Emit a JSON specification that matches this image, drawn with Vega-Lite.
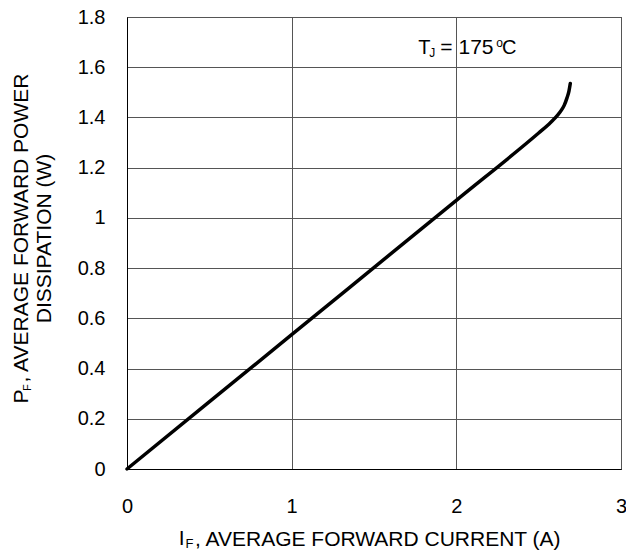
{
  "$schema": "https://vega.github.io/schema/vega-lite/v6.json",
  "width": 494,
  "height": 452,
  "autosize": {"type": "none"},
  "padding": {"left": 127, "top": 17, "right": 5, "bottom": 83},
  "background": "white",
  "config": {
    "view": {"stroke": "#222", "strokeWidth": 1},
    "font": "Liberation Sans",
    "text": {"font": "Liberation Sans", "color": "black"}
  },
  "data": {
    "values": [
      {"current": 0, "power": 0},
      {"current": 1, "power": 0.535},
      {"current": 2, "power": 1.07},
      {"current": 2.5, "power": 1.338},
      {"current": 2.56, "power": 1.372},
      {"current": 2.6, "power": 1.398},
      {"current": 2.63, "power": 1.422},
      {"current": 2.655, "power": 1.448},
      {"current": 2.672, "power": 1.478},
      {"current": 2.684, "power": 1.505},
      {"current": 2.692, "power": 1.535}
    ]
  },
  "layer": [
    {
      "mark": {"type": "line", "color": "black", "strokeWidth": 3.5, "interpolate": "monotone", "strokeCap": "round"},
      "encoding": {
        "x": {
          "field": "current", "type": "quantitative",
          "scale": {"domain": [0, 3], "nice": false, "zero": false},
          "axis": {
            "values": [0, 1, 2, 3], "format": "~g",
            "ticks": false, "labelPadding": 27, "labelFontSize": 20, "labelColor": "black", "labelFont": "Liberation Sans",
            "domainColor": "black", "gridColor": "#555", "gridWidth": 1,
            "title": ", AVERAGE FORWARD CURRENT (A)",
            "titleFont": "Liberation Sans", "titleFontSize": 21, "titleFontWeight": "normal", "titleColor": "black",
            "titleAlign": "left", "titleBaseline": "alphabetic", "titleX": 67.5, "titleY": 76,
            "labelFlush": false
          }
        },
        "y": {
          "field": "power", "type": "quantitative",
          "scale": {"domain": [0, 1.8], "nice": false, "zero": false},
          "axis": {
            "values": [0, 0.2, 0.4, 0.6, 0.8, 1, 1.2, 1.4, 1.6, 1.8], "format": "~g",
            "ticks": false, "labelPadding": 22, "labelFontSize": 20, "labelColor": "black", "labelFont": "Liberation Sans",
            "domainColor": "black", "gridColor": "#555", "gridWidth": 1,
            "title": ["P\u2004, AVERAGE FORWARD POWER", "DISSIPATION (W)"],
            "titleFont": "Liberation Sans", "titleFontSize": 21, "titleFontWeight": "normal", "titleColor": "black",
            "titleAlign": "center", "titleBaseline": "alphabetic", "titleAngle": -90,
            "titleX": -100, "titleY": 221, "titleLineHeight": 23,
            "labelFlush": false
          }
        }
      }
    },
    {
      "data": {"values": [{}]},
      "mark": {"type": "text", "text": "I", "fontSize": 21, "align": "left", "baseline": "alphabetic", "clip": false},
      "encoding": {"x": {"datum": 0.314, "type": "quantitative"}, "y": {"datum": -0.301, "type": "quantitative"}}
    },
    {
      "data": {"values": [{}]},
      "mark": {"type": "text", "text": "F", "fontSize": 13, "align": "left", "baseline": "alphabetic", "clip": false},
      "encoding": {"x": {"datum": 0.355, "type": "quantitative"}, "y": {"datum": -0.313, "type": "quantitative"}}
    },
    {
      "data": {"values": [{}]},
      "mark": {"type": "text", "text": "F", "fontSize": 11, "align": "left", "baseline": "alphabetic", "angle": 270, "clip": false},
      "encoding": {"x": {"datum": -0.58, "type": "quantitative"}, "y": {"datum": 0.311, "type": "quantitative"}}
    },
    {
      "data": {"values": [{}]},
      "mark": {"type": "text", "text": "T", "fontSize": 20, "align": "left", "baseline": "alphabetic"},
      "encoding": {"x": {"datum": 1.768, "type": "quantitative"}, "y": {"datum": 1.654, "type": "quantitative"}}
    },
    {
      "data": {"values": [{}]},
      "mark": {"type": "text", "text": "J", "fontSize": 12, "align": "left", "baseline": "alphabetic"},
      "encoding": {"x": {"datum": 1.835, "type": "quantitative"}, "y": {"datum": 1.639, "type": "quantitative"}}
    },
    {
      "data": {"values": [{}]},
      "mark": {"type": "text", "text": "= 175", "fontSize": 21, "align": "left", "baseline": "alphabetic"},
      "encoding": {"x": {"datum": 1.903, "type": "quantitative"}, "y": {"datum": 1.654, "type": "quantitative"}}
    },
    {
      "data": {"values": [{}]},
      "mark": {"type": "text", "text": "o", "fontSize": 12, "align": "left", "baseline": "alphabetic"},
      "encoding": {"x": {"datum": 2.243, "type": "quantitative"}, "y": {"datum": 1.679, "type": "quantitative"}}
    },
    {
      "data": {"values": [{}]},
      "mark": {"type": "text", "text": "C", "fontSize": 20, "align": "left", "baseline": "alphabetic"},
      "encoding": {"x": {"datum": 2.278, "type": "quantitative"}, "y": {"datum": 1.654, "type": "quantitative"}}
    }
  ]
}
